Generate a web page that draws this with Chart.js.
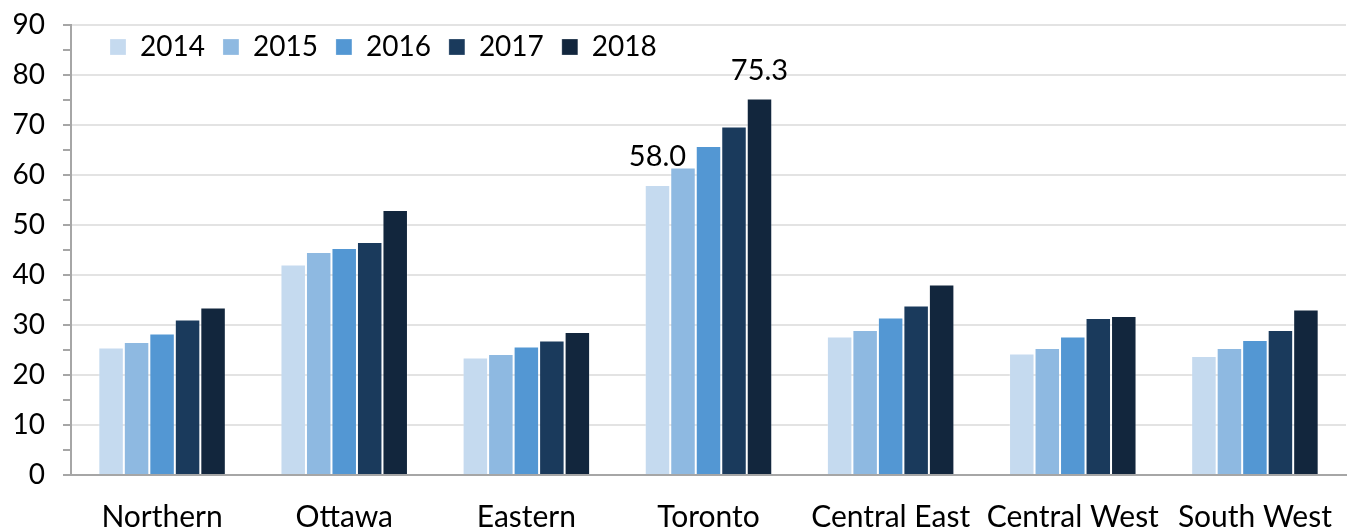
<!DOCTYPE html>
<html>
<head>
<meta charset="utf-8">
<script src="https://cdn.jsdelivr.net/npm/chart.js@4.4.1/dist/chart.umd.min.js"></script>
<style>
  html, body { margin: 0; padding: 0; background: #fff; }
  #wrap { width: 1348px; height: 527px; }
</style>
</head>
<body>
<div id="wrap"><canvas id="myChart" width="1348" height="527"></canvas></div>
<script>
const regions = ['Northern', 'Ottawa', 'Eastern', 'Toronto', 'Central East', 'Central West', 'South West'];
const years = ['2014', '2015', '2016', '2017', '2018'];
const values2014 = [25.5, 42.1, 23.5, 58.0, 27.7, 24.3, 23.8];
const values2015 = [26.6, 44.6, 24.2, 61.5, 29.0, 25.4, 25.4];
const values2016 = [28.3, 45.4, 25.7, 65.8, 31.5, 27.7, 27.0];
const values2017 = [31.1, 46.6, 26.9, 69.7, 33.9, 31.4, 29.0];
const values2018 = [33.5, 53.0, 28.6, 75.3, 38.1, 31.8, 33.1];
const colors = ['#c5daef', '#8eb9e1', '#5397d3', '#1a3a5c', '#12263d'];
// which bars carry a value label: [dataset index, region index]
const labelledBars = [[0, 3], [4, 3]];
const yTicks = [0, 10, 20, 30, 40, 50, 60, 70, 80, 90];

const FONT = 'Lato, "Open Sans", sans-serif';

const seriesValues = [values2014, values2015, values2016, values2017, values2018];

// draws the two value labels over Toronto
const barLabels = {
    id: 'barLabels',
    afterDatasetsDraw(chart) {
        const ctx = chart.ctx;
        ctx.save();
        ctx.font = '29px ' + FONT;
        ctx.fillStyle = '#000';
        ctx.textAlign = 'center';
        ctx.textBaseline = 'alphabetic';
        labelledBars.forEach(([d, i]) => {
            const bar = chart.getDatasetMeta(d).data[i];
            const v = chart.data.datasets[d].data[i];
            ctx.fillText(v.toFixed(1), bar.x, bar.y - 19);
        });
        ctx.restore();
    }
};

// keep the legend in one row but put it inside the plot, top left
const legendInside = {
    id: 'legendInside',
    beforeInit(chart) {
        const fit = chart.legend.fit;
        chart.legend.fit = function () {
            fit.call(this);
            this.height = 0;
        };
    },
    afterLayout(chart) {
        const lg = chart.legend;
        lg.left = 92;
        lg.top = 15;
        lg.right = 1000;
        lg.bottom = 90;
    }
};

const ctx = document.getElementById('myChart').getContext('2d');
const myChart = new Chart(ctx, {
    type: 'bar',
    data: {
        labels: regions,
        datasets: years.map((y, k) => ({
            label: y,
            data: seriesValues[k],
            backgroundColor: colors[k],
            borderColor: 'rgba(255,255,255,0.25)',
            borderWidth: 1,
            borderSkipped: 'bottom',
            barPercentage: 1,
            categoryPercentage: 0.70
        }))
    },
    options: {
        responsive: false,
        animation: false,
        layout: { padding: { top: 25, right: 2, left: 0, bottom: 0 } },
        plugins: {
            tooltip: { enabled: false },
            legend: {
                position: 'top',
                align: 'start',
                labels: {
                    font: { family: FONT, size: 28 },
                    color: '#000',
                    boxWidth: 16,
                    boxHeight: 16,
                    padding: 18
                }
            }
        },
        scales: {
            x: {
                grid: { display: true, drawOnChartArea: false, drawTicks: false },
                border: { display: true, color: '#a6a6a6', width: 2 },
                ticks: {
                    font: { family: FONT, size: 30 },
                    color: '#000',
                    padding: 24,
                    maxRotation: 0,
                    autoSkip: false
                },
                afterFit(scale) {
                    scale.height = 52;
                    scale.paddingLeft = 0;
                    scale.paddingRight = 0;
                }
            },
            y: {
                min: 0,
                max: 90,
                grid: {
                    color: c => (c.tick && yTicks.includes(c.tick.value)) ? '#e3e3e3' : 'transparent',
                    lineWidth: 2,
                    tickColor: '#a6a6a6',
                    tickLength: 8
                },
                border: { display: true, color: '#a6a6a6', width: 2 },
                ticks: {
                    stepSize: 5,
                    autoSkip: false,
                    font: { family: FONT, size: 28 },
                    color: '#000',
                    padding: 18,
                    callback: v => yTicks.includes(v) ? v : ''
                },
                afterFit(scale) {
                    scale.width = 71;
                    scale.paddingTop = 0;
                    scale.paddingBottom = 0;
                }
            }
        }
    },
    plugins: [barLabels, legendInside]
});
</script>
</body>
</html>
